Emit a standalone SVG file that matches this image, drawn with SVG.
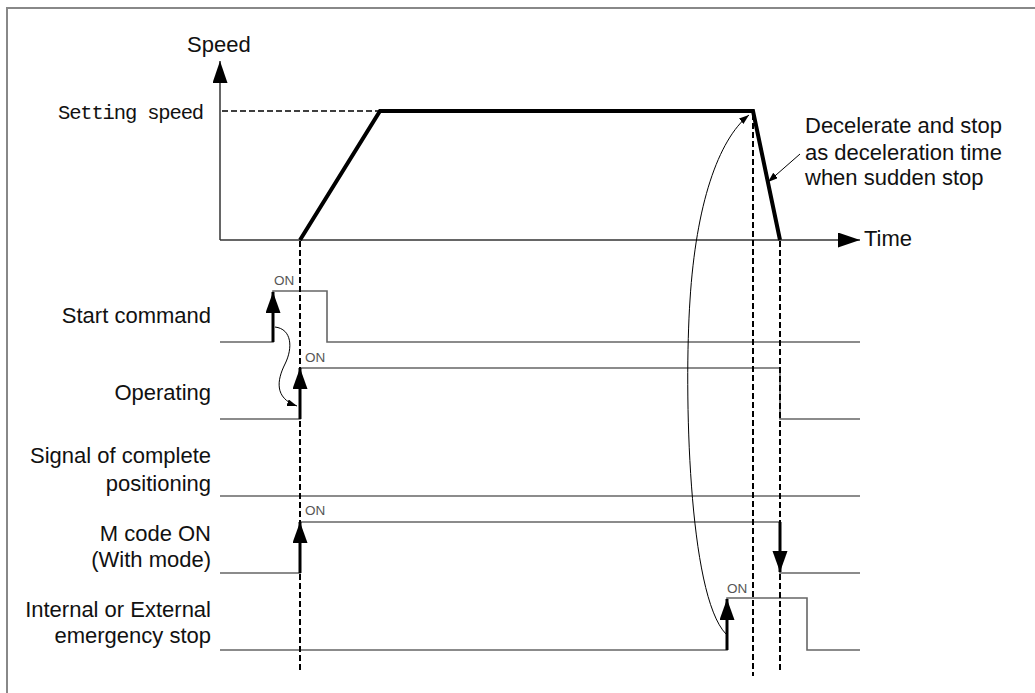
<svg xmlns="http://www.w3.org/2000/svg" width="1035" height="693" viewBox="0 0 1035 693">
<style>
.lbl{font-family:"Liberation Sans",Arial,sans-serif;font-size:22px;fill:#111}
.lbr{font-family:"Liberation Sans",Arial,sans-serif;font-size:22px;fill:#111;text-anchor:end}
.mono{font-family:"Liberation Mono","Courier New",monospace;font-size:20.5px;letter-spacing:-1.15px;fill:#111}
.on{font-family:"Liberation Sans",Arial,sans-serif;font-size:13.5px;fill:#555}
.sig{fill:none;stroke:#666;stroke-width:1.6}
.axis{fill:none;stroke:#333;stroke-width:1.5}
.dash{fill:none;stroke:#000;stroke-width:2;stroke-dasharray:6 3}
.prof{fill:none;stroke:#000;stroke-width:4;stroke-linejoin:miter}
.edge{fill:none;stroke:#000;stroke-width:3}
.thin{fill:none;stroke:#000;stroke-width:1}
</style>
<defs>
<marker id="big" markerUnits="userSpaceOnUse" markerWidth="22" markerHeight="16" refX="21" refY="7.5" orient="auto">
<path d="M0,0 L21,7.5 L0,15 z" fill="#000"/>
</marker>
<marker id="ax" markerUnits="userSpaceOnUse" markerWidth="24" markerHeight="16" refX="22" refY="7.5" orient="auto">
<path d="M0,0 L22,7.5 L0,15 z" fill="#000"/>
</marker>
<marker id="sm" markerUnits="userSpaceOnUse" markerWidth="12" markerHeight="8" refX="10" refY="3.5" orient="auto">
<path d="M0,0 L10,3.5 L0,7 z" fill="#000"/>
</marker>
</defs>
<rect x="0" y="0" width="1035" height="693" fill="#fff"/>
<rect x="7" y="8" width="1100" height="750" fill="none" stroke="#888" stroke-width="2"/>

<g id="axes">
<line class="axis" x1="220" y1="240" x2="220" y2="61" marker-end="url(#ax)"/>
<line class="axis" x1="220" y1="240" x2="860" y2="240" marker-end="url(#ax)"/>
<text class="lbl" x="187" y="52">Speed</text>
<text class="lbl" x="864" y="246">Time</text>
<line x1="222" y1="111" x2="380" y2="111" stroke="#000" stroke-width="1.5" stroke-dasharray="6 3"/>
<text class="mono" x="58" y="119">Setting speed</text>
</g>

<g id="speed-profile">
<polyline class="prof" points="300,240 380,111 753,111 780,240"/>
</g>

<g id="decel-note">
<text class="lbl" x="805" y="133">Decelerate and stop</text>
<text class="lbl" x="805" y="160">as deceleration time</text>
<text class="lbl" x="805" y="185">when sudden stop</text>
</g>

<g id="signal-start">
<text class="lbr" x="211" y="323">Start command</text>
<polyline class="sig" points="220,342 273,342 273,291 327,291 327,342 860,342"/>
<text class="on" x="274" y="285">ON</text>
</g>

<g id="signal-operating">
<text class="lbr" x="211" y="400">Operating</text>
<polyline class="sig" points="220,419 300,419 300,368 780,368 780,419 860,419"/>
<text class="on" x="305" y="362">ON</text>
</g>

<g id="signal-positioning">
<text class="lbr" x="211" y="463">Signal of complete</text>
<text class="lbr" x="211" y="491">positioning</text>
<line class="sig" x1="220" y1="496" x2="860" y2="496"/>
</g>

<g id="signal-mcode">
<text class="lbr" x="211" y="541">M code ON</text>
<text class="lbr" x="211" y="567">(With mode)</text>
<polyline class="sig" points="220,573 300,573 300,522 780,522 780,573 860,573"/>
<text class="on" x="305" y="515">ON</text>
</g>

<g id="signal-emergency">
<text class="lbr" x="211" y="617">Internal or External</text>
<text class="lbr" x="211" y="643">emergency stop</text>
<polyline class="sig" points="220,650 727,650 727,598 807,598 807,650 860,650"/>
<text class="on" x="727" y="593">ON</text>
</g>

<g id="connectors">
<line class="dash" x1="300" y1="241" x2="300" y2="673"/>
<line class="dash" x1="753" y1="114" x2="753" y2="676"/>
<line class="dash" x1="780" y1="241" x2="780" y2="673"/>
<line class="edge" x1="273" y1="342" x2="273" y2="292" marker-end="url(#big)"/>
<line class="edge" x1="300" y1="419" x2="300" y2="368" marker-end="url(#big)"/>
<line class="edge" x1="300" y1="573" x2="300" y2="522" marker-end="url(#big)"/>
<line class="edge" x1="780" y1="522" x2="780" y2="572" marker-end="url(#big)"/>
<line class="edge" x1="727" y1="650" x2="727" y2="599" marker-end="url(#big)"/>
<path class="thin" d="M275,327 C292,329 293,348 285,364 C277,380 274,398 297,406" marker-end="url(#sm)"/>
<path class="thin" d="M726,634 C688,595 684,390 690,300 C696,205 718,140 749,115" marker-end="url(#sm)"/>
<line class="thin" x1="800" y1="154" x2="768" y2="182" marker-end="url(#sm)"/>
</g>
</svg>
